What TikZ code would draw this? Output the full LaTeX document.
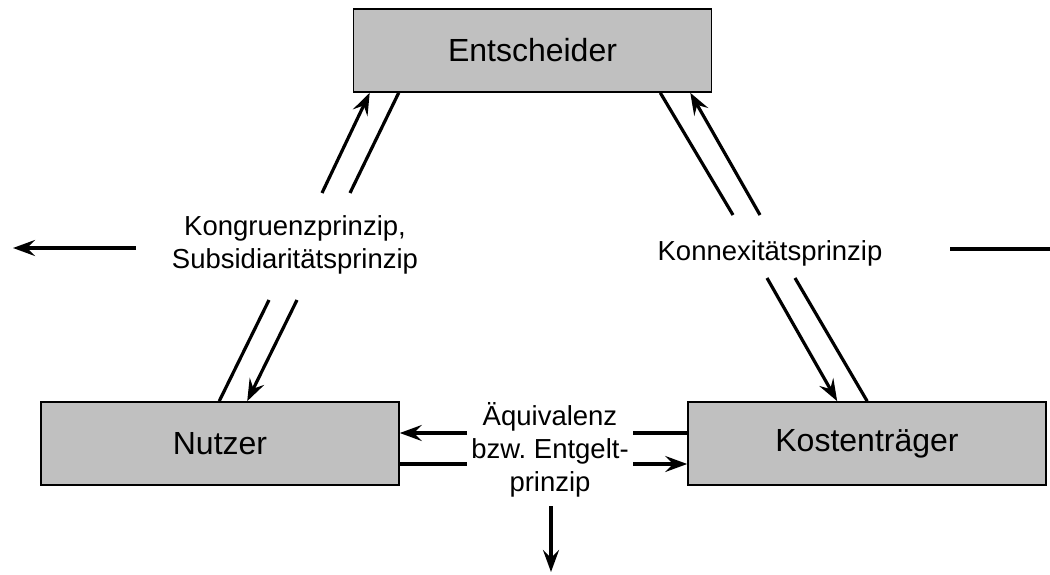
\documentclass[tikz,border=0pt]{standalone}
\usepackage{fontspec}
\setmainfont{Liberation Sans}
\usetikzlibrary{arrows.meta}
\definecolor{boxgray}{HTML}{C0C0C0}
\tikzset{
  box/.style={draw=black, line width=1.6pt, fill=boxgray, minimum width=358pt, minimum height=83pt, inner sep=0pt, font=\fontsize{32}{38}\selectfont},
  lbl/.style={align=center, inner sep=0pt, font=\fontsize{27.5}{33}\selectfont},
  con/.style={line width=3.2pt},
  arr/.style={con, -{Stealth[length=22pt,width=16pt,inset=8pt]}}
}
\begin{document}
\frenchspacing
\begin{tikzpicture}[x=1pt,y=-1pt]
\useasboundingbox (0,0) rectangle (1050,575);
\node[box] (E) at (532.5,50.5) {Entscheider};
\node[box] (N) at (220,443.5) {Nutzer};
\node[box] (K) at (867,443.5) {Kostenträger};
\node[lbl, anchor=base] (KS) at (295,268) {Kongruenzprinzip,\\Subsidiaritätsprinzip};
\node[lbl, anchor=base] (KX) at (770,260) {Konnexitätsprinzip};
\node[lbl, anchor=base] (AE) at (550,491) {Äquivalenz\\bzw. Entgelt-\\prinzip};
% left connectors
\coordinate (l1) at (322,193);
\coordinate (l2) at (350,193);
\coordinate (l3) at (269,300);
\coordinate (l4) at (297,300);
\draw[arr] (l1) -- ([xshift=17pt]E.south west);
\draw[con] ([xshift=46pt]E.south west) -- (l2);
\draw[con] (l3) -- ([xshift=179pt]N.north west);
\draw[arr] (l4) -- ([xshift=207pt]N.north west);
% right connectors
\coordinate (r1) at (733,215);
\coordinate (r2) at (760,215);
\coordinate (r3) at (767,278);
\coordinate (r4) at (795,278);
\draw[con] ([xshift=-52pt]E.south east) -- (r1);
\draw[arr] (r2) -- ([xshift=-22pt]E.south east);
\draw[arr] (r3) -- ([xshift=150pt]K.north west);
\draw[con] (r4) -- ([xshift=180pt]K.north west);
% side arrows
\coordinate (h1a) at (136,248);
\coordinate (h1b) at (13,248);
\coordinate (h2a) at (950,249);
\coordinate (h2b) at (1050,249);
\draw[arr] (h1a) -- (h1b);
\draw[con] (h2a) -- (h2b);
% bottom connectors
\coordinate (b1) at (467,433);
\coordinate (b2) at (633,433);
\coordinate (b3) at (467,464);
\coordinate (b4) at (633,464);
\draw[arr] (b1) -- (N.east |- b1);
\draw[con] (b2) -- (K.west |- b2);
\draw[con] (N.east |- b3) -- (b3);
\draw[arr] (b4) -- (K.west |- b4);
\coordinate (v1) at (551,506);
\coordinate (v2) at (551,572);
\draw[arr] (v1) -- (v2);
\end{tikzpicture}
\end{document}
